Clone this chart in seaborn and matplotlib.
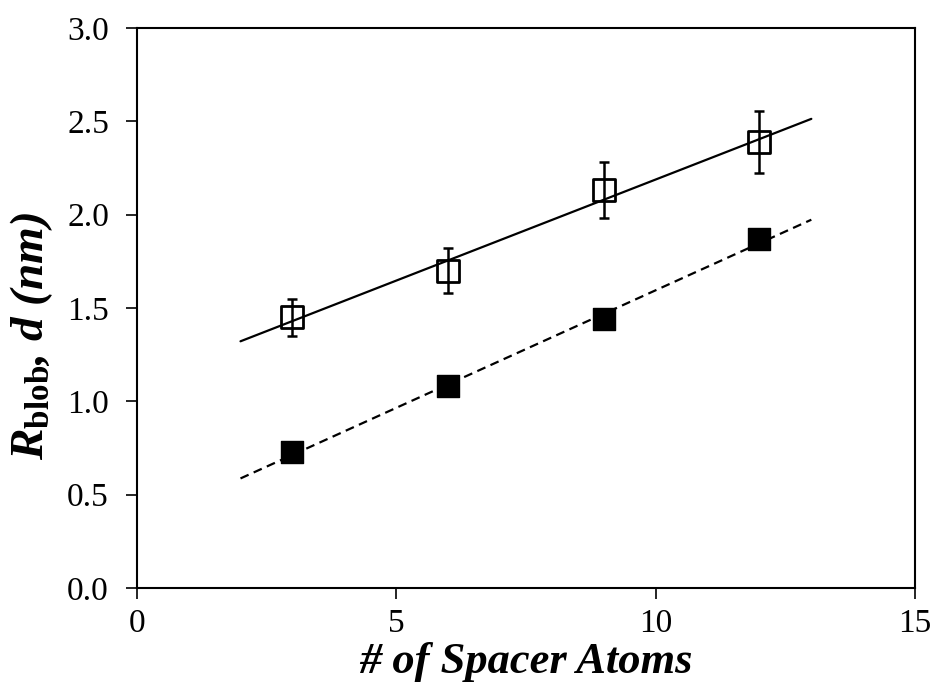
# R_blob and d versus number of spacer atoms
import numpy as np
import pandas as pd
import matplotlib
matplotlib.use("Agg")
import matplotlib.pyplot as plt
import seaborn as sns

# data
spacer_atoms = [3, 6, 9, 12]
r_blob = [1.45, 1.70, 2.13, 2.39]
r_blob_err = [0.10, 0.12, 0.15, 0.165]
d_values = [0.73, 1.08, 1.44, 1.87]
fit_range = [2, 13]

sns.set_style("ticks")
plt.rcParams['font.family'] = ['Liberation Serif', 'DejaVu Serif']
plt.rcParams['mathtext.fontset'] = 'custom'
plt.rcParams['mathtext.rm'] = 'Liberation Serif'
plt.rcParams['mathtext.it'] = 'Liberation Serif:italic'
plt.rcParams['mathtext.bf'] = 'Liberation Serif:bold'
plt.rcParams['mathtext.bfit'] = 'Liberation Serif:bold:italic'

df = pd.DataFrame({'n': spacer_atoms, 'r_blob': r_blob, 'err': r_blob_err, 'd': d_values})

# linear fits through each series, drawn from x=2 to x=13
fit_x = np.array(fit_range, dtype=float)
p_open = np.polyfit(df['n'], df['r_blob'], 1)
p_fill = np.polyfit(df['n'], df['d'], 1)
fits = pd.DataFrame({'x': fit_x, 'open': np.polyval(p_open, fit_x), 'fill': np.polyval(p_fill, fit_x)})

fig = plt.figure(figsize=(9.3, 6.85), dpi=100)
ax = fig.add_axes([0.147, 0.1416, 0.837, 0.8175])

sns.lineplot(data=fits, x='x', y='open', ax=ax, color='black', lw=1.6)
sns.lineplot(data=fits, x='x', y='fill', ax=ax, color='black', lw=1.6, linestyle=(0, (4, 2.5)))

ax.errorbar(df['n'], df['r_blob'], yerr=df['err'], fmt='none', ecolor='black',
            elinewidth=1.8, capsize=3.5, capthick=1.8, zorder=3)
sns.scatterplot(data=df, x='n', y='r_blob', ax=ax, marker='s', s=250,
                facecolor='none', edgecolor='black', linewidth=2, zorder=4)
sns.scatterplot(data=df, x='n', y='d', ax=ax, marker='s', s=250,
                color='black', edgecolor='black', linewidth=1, zorder=4)

ax.set_xlim(0, 15)
ax.set_ylim(0, 3.0)
ax.set_xticks([0, 5, 10, 15])
ax.set_yticks(np.arange(0, 3.01, 0.5))
ax.set_yticklabels([f'{v:.1f}' for v in np.arange(0, 3.01, 0.5)])
ax.tick_params(axis='both', labelsize=24, length=8, width=1.2, direction='out',
               colors='black')
ax.tick_params(axis='x', pad=7)
ax.tick_params(axis='y', pad=12)
for s in ax.spines.values():
    s.set_visible(True)
    s.set_linewidth(1.5)
    s.set_color('black')

ax.set_xlabel('# of Spacer Atoms', fontsize=32, fontweight='bold', fontstyle='italic',
              color='black', labelpad=2)
ax.set_ylabel(r'$\mathbfit{R}_{\mathbf{blob}}$, $\mathbfit{d}$ (nm)', fontsize=34,
              fontweight='bold', fontstyle='italic', color='black', labelpad=6)
ax.yaxis.set_label_coords(-0.105, 0.45)

fig.savefig('out.png', dpi=100)
